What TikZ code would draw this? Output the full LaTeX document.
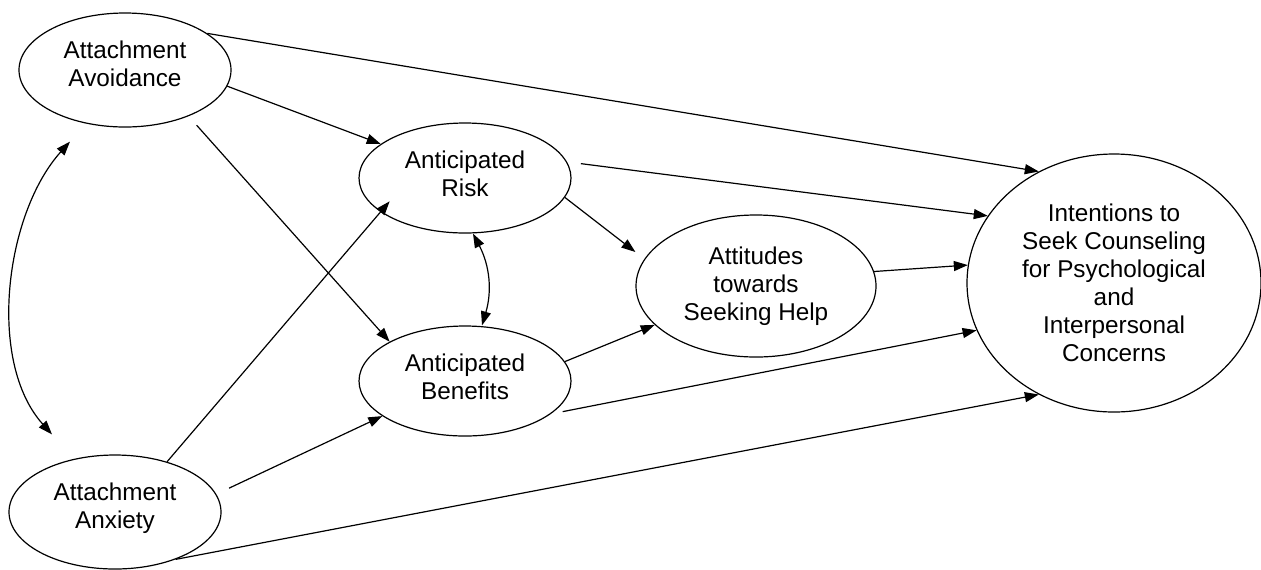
\documentclass[tikz,border=0pt]{standalone}
\usepackage{fontspec}
\setmainfont{Liberation Sans}
\usetikzlibrary{arrows.meta,shapes.geometric}

\tikzset{
    latent/.style = {draw, ellipse, inner sep = 0pt, align = center, line width = 0.6pt,
        font = \fontsize{12.15}{14}\selectfont},
    path/.style = {-{Triangle[length = 7pt, width = 5pt]}, line width = 0.6pt},
    covpath/.style = {{Triangle[length = 7pt, width = 5pt]}-{Triangle[length = 7pt, width = 5pt]}, line width = 0.6pt}
}

\begin{document}
\begin{tikzpicture}[x = 0.5pt, y = -0.5pt]
            \useasboundingbox (0, 0) rectangle (1261, 569);
            \node [latent, minimum width = 106pt, minimum height = 57pt, text depth = 6pt] (avoid) at (125, 70) {Attachment\\Avoidance};
            \node [latent, minimum width = 106pt, minimum height = 57pt, text depth = 6pt] (anxiety) at (115, 512) {Attachment\\Anxiety};
            \node [latent, minimum width = 106pt, minimum height = 55pt, text depth = 4pt] (risk) at (465, 178) {Anticipated\\Risk};
            \node [latent, minimum width = 106pt, minimum height = 55pt, text depth = 4.5pt] (benefit) at (465, 381) {Anticipated\\Benefits};
            \node [latent, minimum width = 120pt, minimum height = 71pt] (attitude) at (756, 286) {Attitudes\\towards\\Seeking Help};
            \node [latent, minimum width = 147pt, minimum height = 129pt] (intent) at (1114, 283) {Intentions to\\Seek Counseling\\for Psychological\\and\\Interpersonal\\Concerns};
            % paths from avoidance
            \draw [path] (avoid.24) -- (intent.124);
            \draw [path] (avoid.-9) -- (risk.158);
            \draw [path, shorten <= 6pt] (avoid.-36) -- (benefit.north west);
            % paths from anxiety
            \draw [path] (anxiety.44) -- ([yshift = 8pt] risk.south west);
            \draw [path, shorten <= 7pt] (anxiety.10) -- (benefit.203);
            \draw [path] (anxiety.-38) -- (intent.236);
            % mediators
            \draw [path, shorten <= 7pt] (risk.9) -- (intent.152);
            \draw [path] (risk.-11) -- ([yshift = 17pt] attitude.west);
            \draw [path] (benefit.11) -- (attitude.201);
            \draw [path, shorten <= 6pt] (benefit.-21) -- (intent.199);
            \draw [path] (attitude.7) -- (intent.173);
            % covariances
            \draw [covpath] ([xshift = -27.5pt, yshift = -7pt] avoid.south) to [out = 228, in = 132, looseness = 0.85] ([xshift = -31.5pt, yshift = 10pt] anxiety.north);
            \draw [covpath] ([xshift = 4pt] risk.south) to [bend left = 22] ([xshift = 8.5pt] benefit.north);
        \end{tikzpicture}
\end{document}
